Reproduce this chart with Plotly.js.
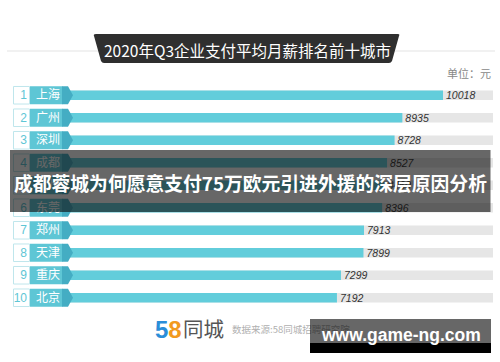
<!DOCTYPE html>
<html><head><meta charset="utf-8">
<script src="https://cdn.plot.ly/plotly-3.0.1.min.js"></script>
<style>html,body{margin:0;padding:0;background:#fff}#chart{width:500px;height:362px}</style>
</head><body><div id="chart"></div>
<script>
// ---- data ----
const ranks = [1, 2, 3, 4, 5, 6, 7, 8, 9, 10];
const rankLabels = ['1', '2', '3', '4', '5', '6', '7', '8', '9', '10'];
const cities = ['上海', '广州', '深圳', '成都', '杭州', '东莞', '郑州', '天津', '重庆', '北京'];
const salaries = [10018, 8935, 8728, 8527, 8460, 8396, 7913, 7899, 7299, 7192];
const chartTitle = '2020年Q3企业支付平均月薪排名前十城市';
const unitLabel = '单位：元';
const overlayTitle = '成都蓉城为何愿意支付75万欧元引进外援的深层原因分析';
const sourceLabel = '数据来源:58同城招聘研究院';
const watermark = 'www.game-ng.com';

// ---- layout helpers ----
const W = 500, H = 362, L = 67, R = 7, T = 84, B = 53;
const PW = W - L - R, PH = H - T - B;
const px = x => (x - L) / PW;          // pixel x -> paper
const py = y => (H - B - y) / PH;      // pixel y -> paper
const CJK = 'Noto Sans CJK SC, Liberation Sans, sans-serif';
const LAT = 'Liberation Sans, Arial, sans-serif';
const TEAL = '#62cddb';

const shapes = [];
shapes.push({type: 'line', xref: 'paper', yref: 'paper', x0: px(7), x1: px(495), y0: py(51), y1: py(51),
  line: {color: '#e3e3e3', width: 1}, layer: 'below'});
shapes.push({type: 'path', xref: 'paper', yref: 'paper', layer: 'below',
  path: `M ${px(96)},${py(34)} L ${px(398)},${py(34)} Q ${px(400)},${py(34)} ${px(399)},${py(36)} L ${px(392)},${py(61)} Q ${px(391)},${py(63)} ${px(389)},${py(63)} L ${px(104)},${py(63)} Q ${px(102)},${py(63)} ${px(101)},${py(61)} L ${px(94)},${py(36)} Q ${px(93)},${py(34)} ${px(96)},${py(34)} Z`,
  fillcolor: '#2f2f2f', line: {width: 0}});

ranks.forEach(r => {
  shapes.push({type: 'rect', xref: 'paper', yref: 'y', x0: 0, x1: 1, y0: r - 0.21, y1: r + 0.21,
    fillcolor: '#e6e6e6', line: {width: 0}, layer: 'below'});
  shapes.push({type: 'rect', xref: 'paper', yref: 'y', x0: px(13.5), x1: px(29.5), y0: r - 0.39, y1: r + 0.39,
    fillcolor: '#ffffff', line: {color: '#bfe6ec', width: 1}, layer: 'below'});
  shapes.push({type: 'rect', xref: 'paper', yref: 'y', x0: px(30), x1: px(62.5), y0: r - 0.4, y1: r + 0.4,
    fillcolor: '#5ec6d5', line: {width: 0}, layer: 'below'});
});
ranks.forEach(r => {
  shapes.push({type: 'path', xref: 'paper', yref: 'y', layer: 'above',
    path: `M ${px(62)},${r - 0.4} L ${px(68)},${r - 0.4} L ${px(73)},${r} L ${px(68)},${r + 0.4} L ${px(62)},${r + 0.4} Z`,
    fillcolor: '#44adc3', line: {width: 0}});
});
shapes.push({type: 'rect', xref: 'paper', yref: 'paper', x0: px(10), x1: px(490.5), y0: py(212), y1: py(150),
  fillcolor: 'rgba(10,10,10,0.62)', line: {width: 0}, layer: 'above'});
shapes.push({type: 'rect', xref: 'paper', yref: 'paper', x0: px(310), x1: px(491), y0: py(353), y1: py(343),
  fillcolor: '#000000', line: {width: 0}, layer: 'above'});

const ann = (o) => Object.assign({xref: 'paper', yref: 'paper', showarrow: false, xanchor: 'center', yanchor: 'middle'}, o);
const annotations = [
  ann({text: chartTitle, x: px(247), y: py(49.5), font: {family: CJK, size: 15.5, color: '#ffffff'}}),
  ann({text: unitLabel, x: px(493), y: py(73), xanchor: 'right', font: {family: CJK, size: 11, color: '#888888'}}),
  ann({text: overlayTitle, x: px(250), y: py(182), font: {family: CJK, size: 18.8, color: '#ffffff', weight: 700}}),
  ann({text: '<span style="color:#2a8ed8">5</span><span style="color:#f29a1f">8</span>', x: px(153), y: py(329),
    xanchor: 'left', font: {family: LAT, size: 24, weight: 700}}),
  ann({text: '同城', x: px(181), y: py(328), xanchor: 'left', font: {family: CJK, size: 20.5, color: '#555555'}}),
  ann({text: sourceLabel, x: px(230), y: py(329), xanchor: 'left', font: {family: CJK, size: 9.5, color: '#b0b0b0'}}),
  ann({text: ' ', x: px(400.5), y: py(331), width: 181, height: 24, bgcolor: 'rgba(10,10,10,0.62)',
    borderpad: 0, borderwidth: 0, font: {size: 10}}),
  ann({text: watermark, x: px(400.5), y: py(334.5), font: {family: LAT, size: 17.5, color: '#ffffff', weight: 700}})
];

const traces = [
  {type: 'bar', orientation: 'h', y: ranks, x: salaries, width: 0.42,
    marker: {color: TEAL}, text: salaries.map(String), textposition: 'outside',
    textfont: {family: LAT, size: 10.5, color: '#333333', style: 'italic'},
    constraintext: 'none', cliponaxis: false, hoverinfo: 'skip', showlegend: false},
  {type: 'scatter', mode: 'markers', y: ranks, x: salaries, yaxis: 'y2', marker: {opacity: 0},
    hoverinfo: 'skip', showlegend: false}
];

const layout = {
  width: W, height: H, margin: {l: L, r: R, t: T, b: B},
  paper_bgcolor: '#ffffff', plot_bgcolor: 'rgba(0,0,0,0)',
  showlegend: false,
  xaxis: {range: [0, 11350], showgrid: false, zeroline: false, showticklabels: false, ticks: '',
    showline: false, fixedrange: true},
  yaxis: {range: [10.5, 0.5], tickvals: ranks, ticktext: cities, ticks: '', showgrid: false,
    zeroline: false, showline: false, ticklabelstandoff: 6,
    tickfont: {family: CJK, size: 12, color: '#ffffff'}},
  yaxis2: {overlaying: 'y', side: 'left', anchor: 'x', range: [10.5, 0.5], tickvals: ranks,
    ticktext: rankLabels, ticks: '', showgrid: false, zeroline: false, showline: false,
    ticklabelstandoff: 39, tickfont: {family: LAT, size: 12, color: '#5ec6d5'}},
  shapes: shapes,
  annotations: annotations
};

Plotly.newPlot('chart', traces, layout, {displayModeBar: false, staticPlot: true});
</script>
</body></html>
